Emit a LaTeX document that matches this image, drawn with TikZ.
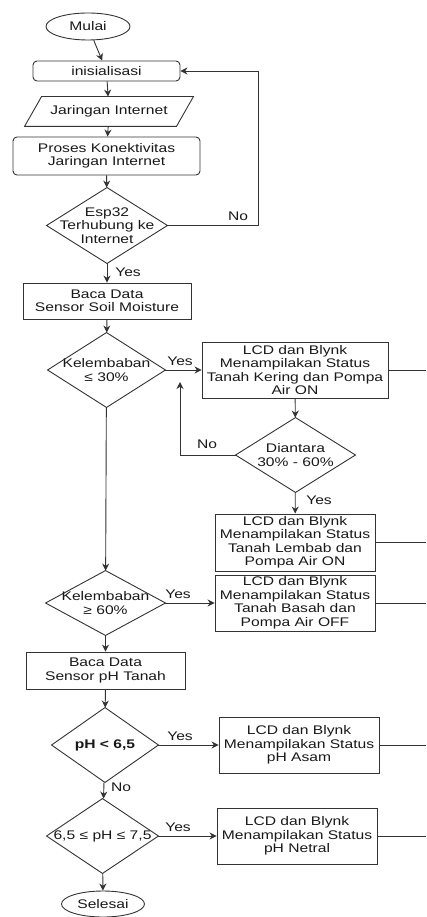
\documentclass[tikz,border=0pt]{standalone}
\usepackage{fontspec}
\setmainfont{Liberation Sans}[FakeStretch=1.25]
\usetikzlibrary{arrows.meta,shapes.geometric,calc}
\tikzset{every picture/.style={line width=0.9pt}}
\tikzset{
  every node/.style={font=\fontsize{12.5}{13.5}\selectfont, text=black!90},
  proc/.style={draw=black!80, align=center, inner sep=0pt},
  rproc/.style={proc, rounded corners=4pt},
  term/.style={draw=black!80, ellipse, inner sep=0pt},
  cond/.style={align=center, inner sep=0pt,
    append after command={\pgfextra{\draw[black!80] (\tikzlastnode.north) -- (\tikzlastnode.east)
      -- (\tikzlastnode.south) -- (\tikzlastnode.west) -- cycle;}}},
  io/.style={align=center, inner sep=0pt,
    append after command={\pgfextra{\draw[black!80] ($(\tikzlastnode.north west)+(17,0)$)
      -- (\tikzlastnode.north east) -- ($(\tikzlastnode.south east)+(-17,0)$)
      -- (\tikzlastnode.south west) -- cycle;}}},
  arr/.style={draw=black!80, -{Stealth[length=7pt,width=7pt]}},
  line/.style={draw=black!80},
}

\begin{document}
\begin{tikzpicture}[x=1pt,y=-1pt]
    \useasboundingbox (0,0) rectangle (426,917);
    % awal dan koneksi
    \node[term, minimum width=84, minimum height=27] (mulai) at (88,26.5) {Mulai};
    \node[rproc, minimum width=147, minimum height=20] (init) at (106.5,71) {inisialisasi};
    \node[io, minimum width=168, minimum height=29] (jaringan) at (109,111.5) {Jaringan Internet};
    \node[rproc, minimum width=187, minimum height=38] (proses) at (106.5,156) {Proses Konektivitas\\Jaringan Internet};
    \node[cond, minimum width=120, minimum height=75] (esp) at (107,225.5) {Esp32\\Terhubung ke\\Internet};
    % kelembaban tanah
    \node[proc, minimum width=168, minimum height=36] (bacasoil) at (107,301) {Baca Data\\Sensor Soil Moisture};
    \node[cond, minimum width=117, minimum height=74] (kering?) at (106.5,370) {Kelembaban\\≤ 30\%};
    \node[proc, minimum width=186, minimum height=56] (kering) at (295,370) {LCD dan Blynk\\Menampilakan Status\\Tanah Kering dan Pompa\\Air ON};
    \node[cond, minimum width=119, minimum height=74] (lembab?) at (295.5,455) {Diantara\\30\% - 60\%};
    \node[proc, minimum width=160, minimum height=57] (lembab) at (295,542.5) {LCD dan Blynk\\Menampilakan Status\\Tanah Lembab dan\\Pompa Air ON};
    \node[cond, minimum width=119, minimum height=64] (basah?) at (105.5,603) {Kelembaban\\≥ 60\%};
    \node[proc, minimum width=160, minimum height=56] (basah) at (295,603) {LCD dan Blynk\\Menampilakan Status\\Tanah Basah dan\\Pompa Air OFF};
    % pH tanah
    \node[proc, minimum width=159, minimum height=37] (bacaph) at (105.5,670.5) {Baca Data\\Sensor pH Tanah};
    \node[cond, minimum width=106, minimum height=74] (asam?) at (105,745) {\textbf{pH < 6,5}};
    \node[proc, minimum width=160, minimum height=56] (asam) at (299,745) {LCD dan Blynk\\Menampilakan Status\\pH Asam};
    \node[cond, minimum width=111, minimum height=74] (netral?) at (102.5,836) {6,5 ≤ pH ≤ 7,5};
    \node[proc, minimum width=160, minimum height=56] (netral) at (297,836) {LCD dan Blynk\\Menampilakan Status\\pH Netral};
    \node[term, minimum width=83, minimum height=26] (selesai) at (103,904) {Selesai};
    % panah
    \draw[arr] (mulai) -- (init);
    \draw[arr] (init) -- (jaringan);
    \draw[arr] (jaringan) -- (proses);
    \draw[arr] (proses) -- (esp);
    \draw[arr] (esp.east) -- ++(91,0) |- (init.east);
    \node at (238,216) {No};
    \draw[arr] (esp) -- (bacasoil);
    \node at (128,272) {Yes};
    \draw[arr] (bacasoil) -- (kering?);
    \draw[arr] (kering?) -- (kering);
    \node at (180,361) {Yes};
    \draw[arr] (kering) -- (lembab?);
    \coordinate (balik) at (180,382);
    \draw[arr] (lembab?.west) -| (balik);
    \node at (207,444) {No};
    \draw[arr] (lembab?) -- (lembab);
    \node at (319,500) {Yes};
    \draw[arr] (kering?) -- (basah?);
    \draw[arr] (basah?) -- (basah);
    \node at (178,594) {Yes};
    \draw[arr] (basah?) -- (bacaph);
    \draw[arr] (bacaph) -- (asam?);
    \draw[arr] (asam?) -- (asam);
    \node at (180,736) {Yes};
    \draw[arr] (asam?) -- (netral?);
    \node at (121,787) {No};
    \draw[arr] (netral?) -- (netral);
    \node at (178,827) {Yes};
    \draw[arr] (netral?) -- (selesai);
    % garis keluar ke kanan
    \coordinate (tepi) at (426,0);
    \foreach \b in {kering,lembab,basah,asam,netral}
        \draw[line] (\b.east) -- (\b.east -| tepi);
\end{tikzpicture}
\end{document}
